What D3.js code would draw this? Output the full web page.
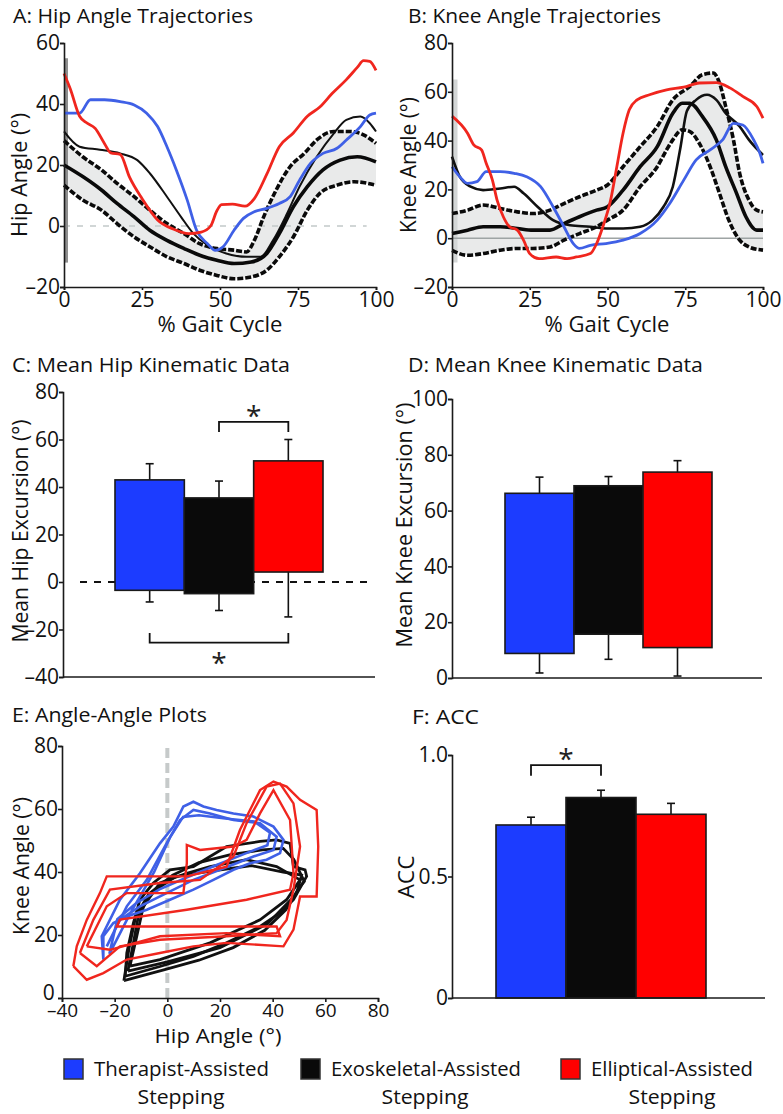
<!DOCTYPE html>
<html><head><meta charset="utf-8">
<script src="https://cdn.jsdelivr.net/npm/d3@7"></script>
<style>html,body{margin:0;padding:0;background:#fff}</style>
</head><body>
<script>
// ---------------- DATA ----------------
const groups = ["Therapist-Assisted", "Exoskeletal-Assisted", "Elliptical-Assisted"];
const groupColors = ["#1c3cff", "#0a0a0a", "#ff0000"];
const lineColors = { therapist: "#3f60e6", elliptical: "#f0261e", exo: "#0a0a0a" };

// A: hip angle trajectories [% gait cycle, degrees]
const hipElliptical = [[0,50],[2,45],[5,36],[7,34],[10,32],[13,27],[15,24],[18,23.5],[21,16],[25,9],[30,2],[35,-1],[40,-2.5],[44,-2],[47,0],[49,5],[50.5,7],[54,7.2],[58,6.5],[61,9],[65,17],[69,26],[73.5,30.5],[78,36],[82,39],[86,43.5],[90.5,48],[94,52],[96,54.2],[98,54],[100,51]];
const hipTherapist = [[0,37],[5,37],[8.5,41.4],[13,41.4],[18,40.8],[22.5,39.7],[26.5,37],[30,32.6],[33,26],[36,18.4],[39.5,8.5],[42.5,-1.4],[46,-5.8],[48.5,-8],[51,-6.8],[54.5,-1.4],[57.5,2.5],[61,4.7],[65,5.8],[69,7.4],[72.5,9.6],[75.5,15],[79,20.5],[83,23.8],[87.5,25.5],[90.5,28.2],[95,32.6],[98,36.4],[100,37]];
const hipExoTrial = [[0,31],[5,26],[11.5,25],[18,23.8],[23.5,21.6],[27.5,17.3],[33,9.6],[37.5,3],[41.5,-2.5],[46,-6.3],[52,-9],[58.5,-10.1],[63,-10.1],[67,-4.7],[71.5,4.1],[75.5,12.9],[81,22.7],[86.5,30.4],[90.5,34.8],[95,35.9],[98,33.7],[100,31]];
const hipExoUpper = [[0,28],[6,22.7],[12,18.4],[17,14],[22.5,9.6],[27.5,5.2],[33,0.8],[38.5,-2.5],[43.5,-5.8],[49,-7.4],[54.5,-7.9],[58.5,-8.5],[61,-4.7],[64,3],[68,11.8],[72.5,19.5],[77,23.8],[81,28.2],[86.5,31],[91.5,31],[96,29.9],[100,27.1]];
const hipExoMean = [[0,20],[6,16.2],[12,11.8],[17,7.4],[22.5,3],[27.5,-1.4],[33,-4.7],[38.5,-7.4],[43.5,-9.6],[49,-11.2],[54.5,-12.3],[60,-11.8],[65,-9],[69,-2.5],[73.5,6.3],[78,12.9],[83,18.4],[88.5,21.6],[94,22.7],[100,21]];
const hipExoLower = [[0,13.4],[6,8.5],[12,5.2],[17,0.8],[22.5,-3.6],[27.5,-6.8],[33,-10.1],[38.5,-12.3],[43.5,-14.5],[49,-16.2],[54.5,-17.3],[60,-16.7],[65,-14.5],[69,-10.1],[73.5,-3.6],[78,5.2],[82,10.7],[87.5,13.4],[93,14.5],[100,13.4]];
const hipEdge = [-12, 55];
const hipXTicks = [0, 25, 50, 75, 100];
const hipYTicks = [-20, 0, 20, 40, 60];

// B: knee angle trajectories
const kneeElliptical = [[0,50],[5,43],[7,38.2],[9.5,36.2],[11,30.7],[13,23.8],[14.5,15.6],[16.5,8.8],[18.5,4.7],[21,3.3],[23,-0.8],[25,-6.3],[28,-8.4],[33.5,-7.7],[37,-8.4],[40,-7.7],[44.5,-6.3],[46.5,-2.2],[48.5,4.7],[51,15.6],[53,29.3],[55,43],[57,52.6],[59.5,56.7],[63.5,58.8],[69,60.8],[74.5,61.9],[79.5,63.6],[85,63.8],[89.5,61.5],[93.5,58.1],[98,54],[100,49.2]];
const kneeTherapist = [[0,29.3],[2.5,25.2],[5,22.5],[8,23.2],[11,27.3],[15.5,27.3],[20,26.6],[24,25.2],[28.5,21.1],[32.5,12.9],[36,4.7],[39,-2.2],[41,-4.2],[44.5,-2.9],[49.5,-2.2],[55,-0.8],[60.5,1.9],[66,7.4],[70,14.2],[74.5,23.8],[78.5,32.1],[83,36.2],[87,40.3],[90.5,47.1],[93.5,46.4],[97,40.3],[99,34.8],[100,30.7]];
const kneeExoTrial = [[0,33.4],[2.5,25.2],[6,21.1],[10,19.7],[15.5,20.4],[20,21.1],[23,18.4],[27.5,12.9],[32.5,7.4],[38,5.3],[44.5,4.7],[49.5,4],[55,4],[60.5,4.7],[64.5,7.4],[68,12.9],[71,21.1],[73.5,37.5],[75.5,52],[78.5,56.7],[82,58.8],[85,56.7],[88,51.2],[92.5,45.8],[95.5,40.3],[100,34.1]];
const kneeExoUpper = [[0,10.1],[5,11.5],[10,13.6],[15.5,12.2],[21,10.8],[26,10.1],[31.5,11.5],[36,14.2],[41,17],[46.5,19.7],[50,21.8],[55,29.3],[60.5,37.5],[66,45.8],[71,56.7],[76.5,62.2],[80.5,67],[84,67.7],[86,63.6],[88,54],[90.5,40.3],[92.5,26.6],[95.5,15.6],[98,11.5],[100,10.8]];
const kneeExoMean = [[0,1.9],[5,3.3],[10,4.7],[15.5,4.7],[21,4],[26,3.3],[31.5,3.3],[36,6],[41,8.8],[46.5,11.5],[50,12.9],[55,19.7],[60.5,29.3],[66,37.5],[71,51.2],[74,55.3],[76.5,55.3],[80.5,49.9],[85,40.3],[88,29.3],[91.5,18.4],[94.5,8.8],[98,3.3],[100,3.3]];
const kneeExoLower = [[0,-5],[5,-7],[10,-6.3],[15.5,-4.9],[21,-4.2],[26,-4.2],[31.5,-3.6],[36,-0.8],[41,1.9],[46.5,4.7],[50,7.4],[55,11.5],[60.5,21.1],[66,29.3],[69,36.2],[71,40.3],[74,44.4],[76.5,43.7],[79.5,38.9],[83,29.3],[86,18.4],[89,7.4],[92.5,-0.8],[95.5,-3.6],[100,-4.9]];
const kneeEdge = [-10, 65];
const kneeYTicks = [-20, 0, 20, 40, 60, 80];

// C: mean hip excursion (floating bars: min..max) with SD
const hipExcTop = [43, 35.4, 51];
const hipExcBottom = [-3.5, -4.9, 4.2];
const hipErrUp = [49.8, 42.5, 60];
const hipErrDown = [-8.4, -12, -14.7];
const hipSig = [{a:1, b:2, y:67.4, leg:63.2}, {a:0, b:2, y:-25.5, leg:-21.5}];
const hipExcTicks = [-40, -20, 0, 20, 40, 60, 80];

// D: mean knee excursion
const kneeExcTop = [66.2, 68.9, 73.8];
const kneeExcBottom = [8.8, 15.7, 10.9];
const kneeErrUp = [72, 72.2, 77.9];
const kneeErrDown = [1.8, 6.7, 0.7];
const kneeExcTicks = [0, 20, 40, 60, 80, 100];

// E: angle-angle loops [hip, knee]
const exoLoops = [
  [[-16,6.9],[-2.8,10],[9.9,13.2],[22.5,17.5],[35.2,22.7],[42.8,27],[47.9,31.2],[52.9,38.6],[52.3,40.7],[47.9,41.7],[46.6,49.1],[41.5,50.2],[35.2,49.7],[22.5,48.1],[16.2,44.9],[9.9,41.7],[1,40.7],[-5.3,36.5],[-10.4,31.2],[-12.9,23.8],[-15.4,14.3],[-16,6.9]],
  [[-14.2,10.1],[-2.8,12.2],[16.2,17.5],[35.2,24.8],[45.3,31.2],[50.4,37.5],[41.5,41.7],[30.1,43.9],[16.2,41.7],[7.4,39.6],[-2.8,36.5],[-9.1,29.1],[-11.6,19.6],[-14.2,10.1]],
  [[-15,8.5],[0,11.5],[20,16],[38,23.5],[49,33],[51,39],[44,40],[32,42],[14,40],[3,38.5],[-6,33.5],[-11,26],[-13,17],[-15,8.5]],
  [[-16.5,5.5],[-1,9],[12,12],[25,16],[37,21.5],[45,28],[50,35],[52,37],[48,44],[44,47.5],[36,47],[24,45.5],[12,43],[2,39],[-7,33],[-12,26],[-14.5,16],[-16.5,5.5]]
];
const therapistLoops = [
  [[-24.3,12.2],[-24.9,19.6],[-18,31.2],[-10.4,39.6],[-2.8,49.1],[2.3,54.4],[6.1,60.8],[9.9,62.3],[13.7,60.8],[18.7,59.7],[25.1,58.6],[32.7,57.6],[40.3,54.4],[44.1,50.2],[42.8,46],[37.7,43.9],[31.4,42.8],[25.1,40.7],[17.5,37.5],[9.9,34.4],[1,31.2],[-7.8,28],[-15.4,25.9],[-20.5,23.8],[-24.3,19.6],[-24.3,12.2]],
  [[-23,16.4],[-15.4,29.1],[-7.8,37.5],[-0.3,49.1],[4.8,56.5],[9.9,59.7],[16.2,58.6],[25.1,56.5],[35.2,55.5],[41.5,51.2],[40.3,47],[32.7,44.9],[20,40.7],[9.9,37.5],[-0.3,33.3],[-10.4,29.1],[-18,24.9],[-23,16.4]],
  [[-22,14],[-14,27],[-5,40],[1,51],[6,57.5],[12,58],[22,57],[33,56],[39,52.5],[38,48.5],[30,46],[18,42],[8,38.5],[-3,34.5],[-12,30],[-19,25],[-22,14]]
];
const ellipticalLoops = [
  [[-35.7,10.1],[-34.4,16.4],[-30.6,24.8],[-25.6,33.3],[-23,38.6],[-9.1,38.6],[7.4,38.6],[22.5,41.7],[27.6,53.4],[35.2,66],[40.3,68.7],[45.3,67.1],[50.4,62.9],[56.7,59.7],[57.3,48.1],[56.7,32.2],[50.4,32.2],[47.9,21.7],[44.1,16.4],[22.5,17.5],[9.9,16.4],[-2.8,14.3],[-15.4,12.2],[-24.3,7.9],[-30.6,5.8],[-35.7,10.1]],
  [[-33.2,14.3],[-28.1,24.8],[-21.8,34.4],[-2.8,36.5],[12.4,37.5],[25.1,44.9],[30.1,55.5],[37.7,67.1],[42.8,68.1],[47.9,61.8],[50.4,48.1],[47.9,34.4],[45.3,24.8],[41.5,20.6],[22.5,19.6],[-2.8,18.5],[-18,16.4],[-26.8,10.1],[-33.2,14.3]],
  [[-30.6,16.4],[-23,29.1],[-15.4,33.3],[6.1,33.3],[7.4,42.8],[7.4,48.6],[12.4,47],[25.1,48.1],[30.1,50.2],[35.2,58.6],[40.3,66],[46.6,56.5],[47.9,39.6],[46.6,34.4],[30.1,31.2],[7.4,28],[-18,24.9],[-19.2,22.7],[-2.8,22.7],[22.5,22.7],[41.5,22.7],[42.8,19.6],[22.5,20.6],[-2.8,19.6],[-21.8,15.3],[-30.6,16.4]]
];
const eXTicks = [-40, -20, 0, 20, 40, 60, 80];
const eYTicks = [0, 20, 40, 60, 80];

// F: ACC
const accMean = [0.712, 0.825, 0.756];
const accErrUp = [0.744, 0.855, 0.801];
const accSig = [{a:0, b:1, y:0.958, leg:0.915}];
const accTicks = [0, 0.5, 1.0];

// ---------------- DRAW ----------------
const W = 783, H = 1114;
const FONT = "'Open Sans', Lato, sans-serif";
const svg = d3.select("body").append("svg").attr("width", W).attr("height", H)
  .style("font-family", FONT);
svg.append("rect").attr("width", W).attr("height", H).attr("fill", "#fff");

function label(x, y, str, size, opts = {}) {
  const t = svg.append("text").attr("x", x).attr("y", y).text(str)
    .attr("font-size", size).attr("fill", "#111")
    .attr("text-anchor", opts.anchor || "start");
  if (opts.len) t.attr("textLength", opts.len).attr("lengthAdjust", "spacingAndGlyphs");
  if (opts.rotate) t.attr("transform", `rotate(-90,${x},${y})`);
  return t;
}
function styleAxis(g, size) {
  g.select(".domain").attr("stroke", "#1a1a1a").attr("stroke-width", 1.6);
  g.selectAll(".tick line").attr("stroke", "#1a1a1a").attr("stroke-width", 1.6);
  g.selectAll(".tick text").attr("font-size", size || 21).attr("fill", "#111").attr("font-family", FONT);
}
const fmt = d => String(d).replace("-", "\u2013");

// ===== Panel A =====
{
  const x = d3.scaleLinear().domain([0, 100]).range([64, 376]);
  const y = d3.scaleLinear().domain([-20, 60]).range([287, 43]);
  const line = d3.line().x(d => x(d[0])).y(d => y(d[1])).curve(d3.curveMonotoneX);
  const poly = d3.line().x(d => x(d[0])).y(d => y(d[1])).curve(d3.curveLinear);
  const g = svg.append("g");
  g.append("path").attr("d", poly(hipExoUpper.concat(hipExoLower.slice().reverse())) + "Z")
    .attr("fill", "#e9eaea");
  g.append("line").attr("x1", x(0)).attr("x2", x(97)).attr("y1", y(0)).attr("y2", y(0))
    .attr("stroke", "#c2c9c9").attr("stroke-width", 1.6).attr("stroke-dasharray", "6,7");
  g.append("line").attr("x1", x(0) + 2).attr("x2", x(0) + 2).attr("y1", y(hipEdge[0])).attr("y2", y(hipEdge[1]))
    .attr("stroke", "#8e8e8e").attr("stroke-width", 4);
  g.append("path").attr("d", line(hipExoTrial)).attr("fill", "none").attr("stroke", "#111").attr("stroke-width", 2);
  [hipExoUpper, hipExoLower].forEach(s => g.append("path").attr("d", line(s)).attr("fill", "none")
    .attr("stroke", "#0a0a0a").attr("stroke-width", 3.6).attr("stroke-dasharray", "6,2"));
  g.append("path").attr("d", line(hipExoMean)).attr("fill", "none").attr("stroke", "#0a0a0a").attr("stroke-width", 3.6);
  g.append("path").attr("d", line(hipTherapist)).attr("fill", "none").attr("stroke", lineColors.therapist).attr("stroke-width", 2.8);
  g.append("path").attr("d", line(hipElliptical)).attr("fill", "none").attr("stroke", lineColors.elliptical).attr("stroke-width", 2.8);
  const ax = g.append("g").attr("transform", `translate(0,${y(-20)})`)
    .call(d3.axisBottom(x).tickValues(hipXTicks).tickSize(3).tickPadding(2).tickFormat(fmt));
  styleAxis(ax);
  const ay = g.append("g").attr("transform", `translate(${x(0)},0)`)
    .call(d3.axisLeft(y).tickValues(hipYTicks).tickSize(4).tickPadding(0).tickFormat(fmt));
  styleAxis(ay);
  label(13, 23, "A: Hip Angle Trajectories", 20, { len: 240 });
  label(220, 332, "% Gait Cycle", 21, { anchor: "middle", len: 125 });
  label(27, 175, "Hip Angle (°)", 21, { anchor: "middle", rotate: true, len: 124 });
}

// ===== Panel B =====
{
  const x = d3.scaleLinear().domain([0, 100]).range([452, 763]);
  const y = d3.scaleLinear().domain([-20, 80]).range([287, 43]);
  const line = d3.line().x(d => x(d[0])).y(d => y(d[1])).curve(d3.curveMonotoneX);
  const poly = d3.line().x(d => x(d[0])).y(d => y(d[1])).curve(d3.curveLinear);
  const g = svg.append("g");
  g.append("path").attr("d", poly(kneeExoUpper.concat(kneeExoLower.slice().reverse())) + "Z")
    .attr("fill", "#e9eaea");
  g.append("line").attr("x1", x(0) + 3).attr("x2", x(0) + 3).attr("y1", y(kneeEdge[0])).attr("y2", y(kneeEdge[1]))
    .attr("stroke", "#d3d6d6").attr("stroke-width", 5);
  g.append("line").attr("x1", x(0)).attr("x2", x(100)).attr("y1", y(0)).attr("y2", y(0))
    .attr("stroke", "#9ea4a4").attr("stroke-width", 1.6);
  g.append("path").attr("d", line(kneeExoTrial)).attr("fill", "none").attr("stroke", "#111").attr("stroke-width", 2.6);
  [kneeExoUpper, kneeExoLower].forEach(s => g.append("path").attr("d", line(s)).attr("fill", "none")
    .attr("stroke", "#0a0a0a").attr("stroke-width", 3.6).attr("stroke-dasharray", "6,2"));
  g.append("path").attr("d", line(kneeExoMean)).attr("fill", "none").attr("stroke", "#0a0a0a").attr("stroke-width", 3.6);
  g.append("path").attr("d", line(kneeTherapist)).attr("fill", "none").attr("stroke", lineColors.therapist).attr("stroke-width", 2.8);
  g.append("path").attr("d", line(kneeElliptical)).attr("fill", "none").attr("stroke", lineColors.elliptical).attr("stroke-width", 2.8);
  const ax = g.append("g").attr("transform", `translate(0,${y(-20)})`)
    .call(d3.axisBottom(x).tickValues(hipXTicks).tickSize(3).tickPadding(2).tickFormat(fmt));
  styleAxis(ax);
  const ay = g.append("g").attr("transform", `translate(${x(0)},0)`)
    .call(d3.axisLeft(y).tickValues(kneeYTicks).tickSize(4).tickPadding(0).tickFormat(fmt));
  styleAxis(ay);
  label(408, 23, "B: Knee Angle Trajectories", 20, { len: 253 });
  label(607, 332, "% Gait Cycle", 21, { anchor: "middle", len: 125 });
  label(416, 165, "Knee Angle (°)", 21, { anchor: "middle", rotate: true, len: 136 });
}

// ===== Bar panel helper =====
function barPanel(o) {
  const x = d3.scaleBand().domain(groups).range(o.band).padding(0);
  const y = d3.scaleLinear().domain(o.domain).range(o.yRange);
  const g = svg.append("g");
  const cx = i => x(groups[i]) + x.bandwidth() / 2;
  if (o.zeroDash) {
    g.append("line").attr("x1", o.zeroDash[0]).attr("x2", o.zeroDash[1]).attr("y1", y(0)).attr("y2", y(0))
      .attr("stroke", "#111").attr("stroke-width", 1.8).attr("stroke-dasharray", "7,7");
  }
  groups.forEach((gName, i) => {
    const capW = 4;
    g.append("line").attr("x1", cx(i)).attr("x2", cx(i)).attr("y1", y(o.top[i])).attr("y2", y(o.errUp[i]))
      .attr("stroke", "#111").attr("stroke-width", 1.6);
    g.append("line").attr("x1", cx(i) - capW).attr("x2", cx(i) + capW).attr("y1", y(o.errUp[i])).attr("y2", y(o.errUp[i]))
      .attr("stroke", "#111").attr("stroke-width", 1.6);
    if (o.errDown) {
      g.append("line").attr("x1", cx(i)).attr("x2", cx(i)).attr("y1", y(o.bottom[i])).attr("y2", y(o.errDown[i]))
        .attr("stroke", "#111").attr("stroke-width", 1.6);
      g.append("line").attr("x1", cx(i) - capW).attr("x2", cx(i) + capW).attr("y1", y(o.errDown[i])).attr("y2", y(o.errDown[i]))
        .attr("stroke", "#111").attr("stroke-width", 1.6);
    }
  });
  g.selectAll("rect.bar").data(groups).join("rect").attr("class", "bar")
    .attr("x", d => x(d)).attr("width", x.bandwidth())
    .attr("y", (d, i) => y(o.top[i]))
    .attr("height", (d, i) => y(o.bottom ? o.bottom[i] : o.domain[0]) - y(o.top[i]))
    .attr("fill", (d, i) => groupColors[i]).attr("stroke", "#1a1a1a").attr("stroke-width", 1.6);
  (o.sig || []).forEach(s => {
    const x1 = cx(s.a), x2 = cx(s.b);
    g.append("path").attr("d", `M${x1},${y(s.leg)}V${y(s.y)}H${x2}V${y(s.leg)}`)
      .attr("fill", "none").attr("stroke", "#111").attr("stroke-width", 1.8);
    const above = y(s.y) < y(s.leg);
    g.append("text").attr("x", (x1 + x2) / 2).attr("y", above ? y(s.y) + 4 : y(s.y) + 30)
      .attr("text-anchor", "middle").attr("font-size", 28).attr("fill", "#222").text("*");
  });
  g.append("line").attr("x1", o.axisX).attr("x2", o.axisEnd).attr("y1", y(o.domain[0])).attr("y2", y(o.domain[0]))
    .attr("stroke", "#1a1a1a").attr("stroke-width", 1.6);
  const ay = g.append("g").attr("transform", `translate(${o.axisX},0)`)
    .call(d3.axisLeft(y).tickValues(o.ticks).tickSize(4).tickPadding(0).tickFormat(o.fmt || fmt));
  styleAxis(ay);
  return { x, y };
}

// ===== Panel C =====
barPanel({ band: [115, 323], domain: [-40, 80], yRange: [677, 392], top: hipExcTop, bottom: hipExcBottom,
  errUp: hipErrUp, errDown: hipErrDown, sig: hipSig, ticks: hipExcTicks, axisX: 63, axisEnd: 375, zeroDash: [80, 368] });
label(12, 372, "C: Mean Hip Kinematic Data", 20, { len: 278 });
label(28, 531, "Mean Hip Excursion (°)", 21, { anchor: "middle", rotate: true, len: 223 });

// ===== Panel D =====
barPanel({ band: [505, 712], domain: [0, 100], yRange: [678, 399], top: kneeExcTop, bottom: kneeExcBottom,
  errUp: kneeErrUp, errDown: kneeErrDown, ticks: kneeExcTicks, axisX: 452, axisEnd: 762 });
label(408, 372, "D: Mean Knee Kinematic Data", 20, { len: 295 });
label(412, 525, "Mean Knee Excursion (°)", 21, { anchor: "middle", rotate: true, len: 245 });

// ===== Panel E =====
{
  const x = d3.scaleLinear().domain([-40, 80]).range([62, 378]);
  const y = d3.scaleLinear().domain([0, 80]).range([998, 746]);
  const loop = d3.line().x(d => x(d[0])).y(d => y(d[1])).curve(d3.curveLinear);
  const g = svg.append("g");
  g.append("line").attr("x1", x(0)).attr("x2", x(0)).attr("y1", y(0)).attr("y2", y(80))
    .attr("stroke", "#c6caca").attr("stroke-width", 4).attr("stroke-dasharray", "10,5");
  exoLoops.forEach(l => g.append("path").attr("d", loop(l)).attr("fill", "none").attr("stroke", "#111").attr("stroke-width", 2.8));
  therapistLoops.forEach(l => g.append("path").attr("d", loop(l)).attr("fill", "none").attr("stroke", lineColors.therapist).attr("stroke-width", 2.6));
  ellipticalLoops.forEach(l => g.append("path").attr("d", loop(l)).attr("fill", "none").attr("stroke", lineColors.elliptical).attr("stroke-width", 2.4));
  const ax = g.append("g").attr("transform", `translate(0,${y(0)})`)
    .call(d3.axisBottom(x).tickValues(eXTicks).tickSize(4).tickPadding(1).tickFormat(fmt));
  styleAxis(ax, 19);
  const ay = g.append("g").attr("transform", `translate(${x(-40)},0)`)
    .call(d3.axisLeft(y).tickValues(eYTicks).tickSize(4).tickPadding(0).tickFormat(fmt));
  styleAxis(ay);
  ay.selectAll(".tick text").filter(d => d === 0).attr("dy", "0.05em").attr("dx", "-0.15em");
  label(12, 722, "E: Angle-Angle Plots", 20, { len: 195 });
  label(218, 1043, "Hip Angle (°)", 20, { anchor: "middle", len: 127 });
  label(29, 866, "Knee Angle (°)", 21, { anchor: "middle", rotate: true, len: 138 });
}

// ===== Panel F =====
barPanel({ band: [496, 706], domain: [0, 1], yRange: [998, 755], top: accMean, errUp: accErrUp,
  sig: accSig, ticks: accTicks, axisX: 452, axisEnd: 765, fmt: d => d === 0 ? "0" : d3.format(".1f")(d) });
label(412, 724, "F: ACC", 20, { len: 67 });
label(414, 877, "ACC", 21, { anchor: "middle", rotate: true, len: 43 });

// ===== Legend =====
const legendX = [64, 301, 561];
const legendTextLen = [175, 190, 162];
const legendSub = [181, 425, 672];
groups.forEach((gName, i) => {
  svg.append("rect").attr("x", legendX[i]).attr("y", 1059).attr("width", 19).attr("height", 20)
    .attr("fill", groupColors[i]).attr("stroke", "#333").attr("stroke-width", 1.5);
  label(legendX[i] + 30, 1076, gName, 20, { len: legendTextLen[i] });
  label(legendSub[i], 1104, "Stepping", 20, { anchor: "middle", len: 87 });
});
</script>
</body></html>
